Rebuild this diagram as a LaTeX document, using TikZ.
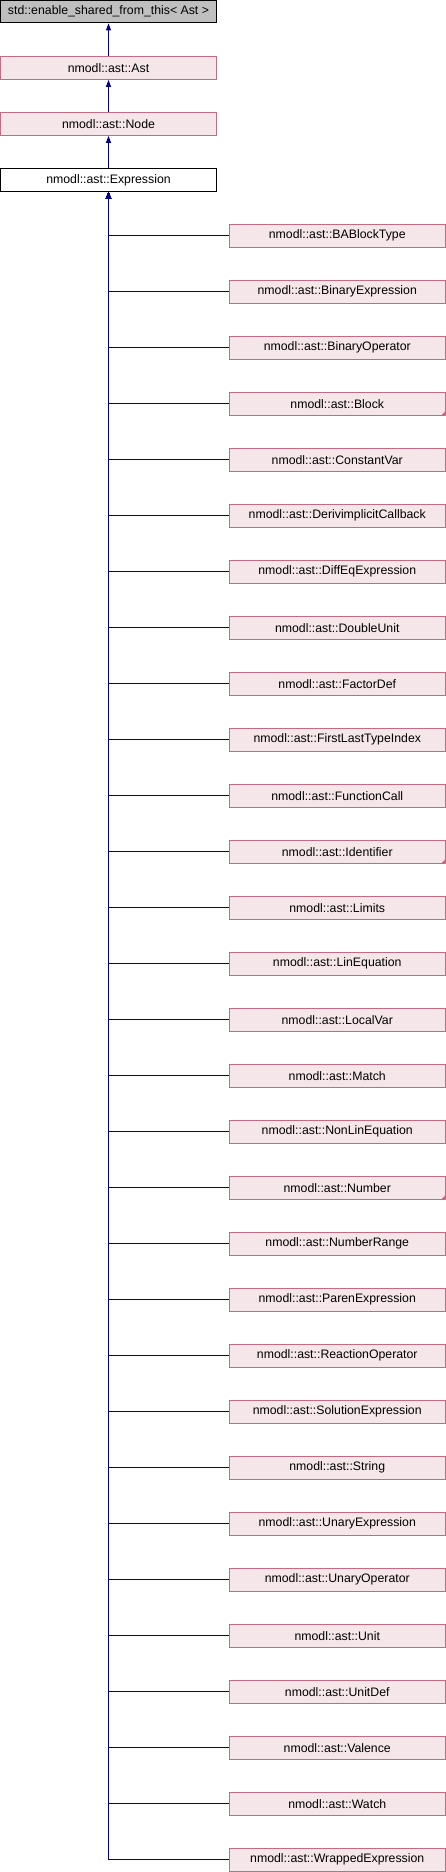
\documentclass[tikz,border=0pt]{standalone}
\usepackage{fontspec}
\setmainfont{Liberation Sans}
\usetikzlibrary{calc,arrows.meta}
\definecolor{boxfill}{RGB}{245,231,233}
\definecolor{boxline}{RGB}{196,106,132}
\definecolor{basegray}{RGB}{191,191,191}
\definecolor{edgeblue}{RGB}{0,0,139}
\tikzset{
  classbox/.style={draw=boxline, fill=boxfill, line width=1pt, minimum width=216.5pt,
    minimum height=22.7pt, inner sep=0pt, font=\fontsize{12.3}{14}\selectfont},
  basebox/.style={classbox, draw=black, fill=basegray},
  currentbox/.style={classbox, draw=black, fill=white},
  inherit/.style={draw=edgeblue, line width=1pt, -{Triangle[width=5pt,length=7pt]}},
  moremark/.style={fill=boxline}
}

\begin{document}
\begin{tikzpicture}[x=1pt, y=-1pt]
    \useasboundingbox (0,0) rectangle (446,1872);

    \node[basebox] (shared) at (108.5,11.5) {std::enable\_shared\_from\_this\textless{} Ast \textgreater};
    
    \node[classbox] (ast) at ($(shared) + (0,56.5)$) {nmodl::ast::Ast};
    
    \node[classbox] (node) at ($(ast) + (0,56)$) {nmodl::ast::Node};
    
    \node[currentbox] (expr) at ($(node) + (0,56)$) {nmodl::ast::Expression};
    
    \draw[inherit] (ast) -- (shared);
    \draw[inherit] (node) -- (ast);
    \draw[inherit] (expr) -- (node);
    
    % derived classes
    \foreach \name [count=\i] in {BABlockType, BinaryExpression, BinaryOperator, Block,
        ConstantVar, DerivimplicitCallback, DiffEqExpression, DoubleUnit, FactorDef,
        FirstLastTypeIndex, FunctionCall, Identifier, Limits, LinEquation, LocalVar,
        Match, NonLinEquation, Number, NumberRange, ParenExpression, ReactionOperator,
        SolutionExpression, String, UnaryExpression, UnaryOperator, Unit, UnitDef,
        Valence, Watch, WrappedExpression}
    {
        \node[classbox, anchor=west] (c\i) at (228.5, {235.7+56*(\i-1)}) {nmodl::ast::\name};
        \draw[inherit] (c\i.west) -| (expr.south);
    }
    
    % classes with hidden children
    \foreach \i in {4,12,18}
        \fill[moremark] (c\i.south east) -- ++(-5,0) -- ++(5,-5) -- cycle;
    
\end{tikzpicture}
\end{document}
